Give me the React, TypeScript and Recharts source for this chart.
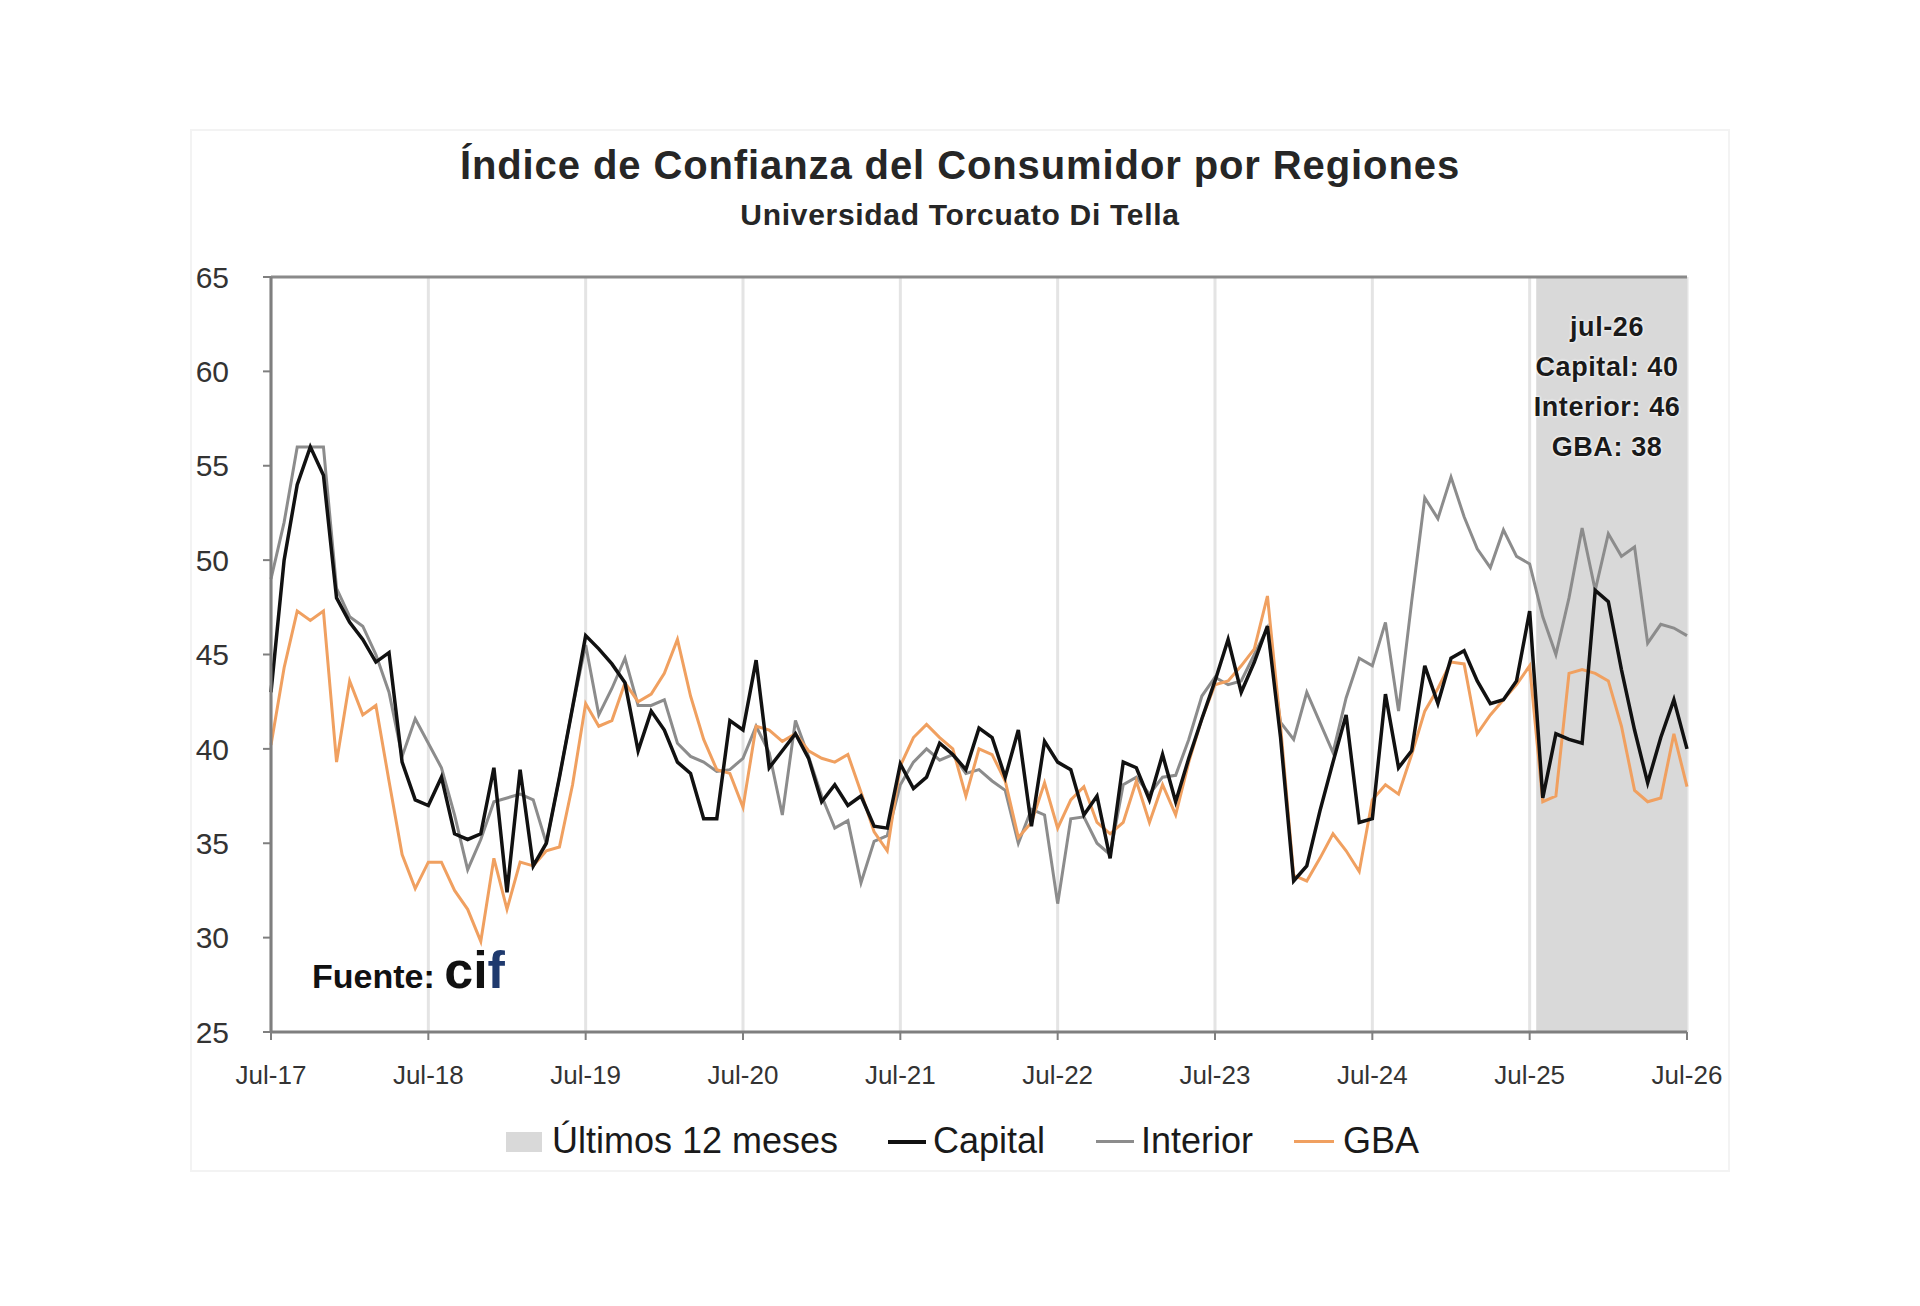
import React from 'react';
import {
  ComposedChart,
  Line,
  XAxis,
  YAxis,
  CartesianGrid,
  ReferenceArea,
  ReferenceLine,
} from 'recharts';

// Monthly series, Jul-17 through Jul-26
const monthNames = ['jul', 'ago', 'sep', 'oct', 'nov', 'dic', 'ene', 'feb', 'mar', 'abr', 'may', 'jun'];

const months: string[] = [];
for (let k = 0; k < 109; k++) {
  const m = k % 12;
  const yy = 17 + Math.floor((k + 6) / 12);
  months.push(`${monthNames[m]}-${yy}`);
}

const capital = [
  43, 50, 54, 56, 54.5, 48, 46.7, 45.8, 44.6, 45.1,
  39.3, 37.3, 37, 38.5, 35.5, 35.2, 35.5, 39, 32.4, 38.9,
  33.8, 35, 38.5, 42.2, 46, 45.3, 44.5, 43.5, 39.9, 42,
  41, 39.3, 38.7, 36.3, 36.3, 41.5, 41, 44.7, 39, 39.9,
  40.8, 39.5, 37.2, 38.1, 37, 37.5, 35.9, 35.8, 39.2, 37.9,
  38.5, 40.3, 39.7, 38.9, 41.1, 40.6, 38.5, 41, 35.9, 40.4,
  39.3, 38.9, 36.5, 37.5, 34.2, 39.3, 39, 37.3, 39.7, 37.2,
  39.5, 41.6, 43.6, 45.8, 43, 44.6, 46.5, 40.6, 33, 33.8,
  36.7, 39.3, 41.8, 36.1, 36.3, 42.9, 39, 39.9, 44.4, 42.4,
  44.8, 45.2, 43.6, 42.4, 42.6, 43.6, 47.3, 37.4, 40.8, 40.5,
  40.3, 48.4, 47.8, 44.2, 41, 38.2, 40.6, 42.6, 40,
];

const interior = [
  49, 52, 56, 56, 56, 48.5, 47, 46.5, 45, 43,
  39.6, 41.6, 40.3, 39, 36.5, 33.6, 35.2, 37.2, 37.4, 37.6,
  37.3, 35, 38.5, 42.2, 45.5, 41.8, 43.2, 44.8, 42.3, 42.3,
  42.6, 40.3, 39.6, 39.3, 38.8, 38.9, 39.5, 41.2, 39.8, 36.5,
  41.5, 39.6, 37.5, 35.8, 36.2, 32.9, 35.1, 35.4, 38.1, 39.3,
  40, 39.4, 39.7, 38.7, 38.9, 38.3, 37.8, 35, 36.8, 36.5,
  31.8, 36.3, 36.4, 35, 34.4, 38.1, 38.5, 37.6, 38.5, 38.6,
  40.5, 42.8, 43.8, 43.4, 43.6, 45, 46.4, 41.4, 40.5, 43,
  41.4, 39.8, 42.7, 44.8, 44.4, 46.7, 42, 47.8, 53.3, 52.2,
  54.4, 52.3, 50.6, 49.6, 51.6, 50.2, 49.8, 47, 45, 48,
  51.7, 48.4, 51.4, 50.2, 50.7, 45.6, 46.6, 46.4, 46,
];

const gba = [
  40.2, 44.3, 47.3, 46.8, 47.3, 39.3, 43.6, 41.8, 42.3, 38.3,
  34.4, 32.6, 34, 34, 32.5, 31.5, 29.8, 34.2, 31.5, 34,
  33.8, 34.6, 34.8, 38.1, 42.4, 41.2, 41.5, 43.5, 42.5, 42.9,
  44, 45.8, 42.8, 40.5, 38.9, 38.7, 36.9, 41.2, 41, 40.4,
  40.8, 39.9, 39.5, 39.3, 39.7, 37.7, 35.6, 34.6, 39.1, 40.6,
  41.3, 40.6, 40, 37.5, 40, 39.7, 38.3, 35.3, 36.1, 38.2,
  35.8, 37.3, 38, 36.1, 35.5, 36.1, 38.3, 36.1, 38.1, 36.5,
  39.3, 41.6, 43.4, 43.6, 44.4, 45.3, 48.1, 41.2, 33.3, 33,
  34.2, 35.5, 34.6, 33.5, 37.3, 38.1, 37.6, 39.7, 42, 43.2,
  44.6, 44.5, 40.8, 41.8, 42.6, 43.4, 44.4, 37.2, 37.5, 44,
  44.2, 44, 43.6, 41.2, 37.8, 37.2, 37.4, 40.8, 38,
];

const yTicks = [25, 30, 35, 40, 45, 50, 55, 60, 65];

const data = months.map((m, i) => ({
  idx: i,
  month: m,
  capital: capital[i],
  interior: interior[i],
  gba: gba[i],
}));

const last = months.length - 1;
const xTicks = months.map((m, i) => (m.startsWith('jul') ? i : -1)).filter((i) => i >= 0);
const shadeStart = last - 12 + 0.5;

const fmtTick = (i: number) => {
  const m = months[i] || '';
  return m.charAt(0).toUpperCase() + m.slice(1);
};

const FONT = '"Liberation Sans", Arial, sans-serif';
const AXIS_GRAY = '#7f7f7f';
const C_CAPITAL = '#111111';
const C_INTERIOR = '#8c8c8c';
const C_GBA = '#f0a060';

export default function App() {
  return (
    <div
      style={{
        position: 'absolute',
        left: 0,
        top: 0,
        width: 1920,
        height: 1306,
        background: '#ffffff',
        fontFamily: FONT,
        overflow: 'hidden',
      }}
    >
      {/* faint frame */}
      <div
        style={{
          position: 'absolute',
          left: 190,
          top: 129,
          width: 1540,
          height: 1043,
          border: '2px solid #f3f3f3',
          boxSizing: 'border-box',
        }}
      />

      <div
        style={{
          position: 'absolute',
          left: 0,
          width: 1920,
          top: 143,
          textAlign: 'center',
          fontSize: 40,
          fontWeight: 700,
          color: '#262626',
          letterSpacing: 0.9,
        }}
      >
        Índice de Confianza del Consumidor por Regiones
      </div>
      <div
        style={{
          position: 'absolute',
          left: 0,
          width: 1920,
          top: 198,
          textAlign: 'center',
          fontSize: 30,
          fontWeight: 700,
          color: '#262626',
          letterSpacing: 0.7,
        }}
      >
        Universidad Torcuato Di Tella
      </div>

      <div style={{ position: 'absolute', left: 0, top: 0 }}>
        <ComposedChart
          width={1920}
          height={1306}
          data={data}
          margin={{ top: 277, right: 233, bottom: 234, left: 200 }}
        >
          <ReferenceArea
            x1={shadeStart}
            x2={last}
            y1={25}
            y2={65}
            fill="#d9d9d9"
            fillOpacity={1}
            stroke="none"
          />
          <CartesianGrid horizontal={false} vertical stroke="#e4e4e4" strokeWidth={3} />
          <XAxis
            dataKey="idx"
            type="number"
            domain={[0, last]}
            ticks={xTicks}
            tickFormatter={fmtTick}
            height={40}
            interval={0}
            axisLine={{ stroke: AXIS_GRAY, strokeWidth: 3 }}
            tickLine={{ stroke: AXIS_GRAY, strokeWidth: 2 }}
            tickSize={8}
            tickMargin={26}
            tick={{ fill: '#333333', fontSize: 26, fontFamily: FONT }}
          />
          <YAxis
            type="number"
            domain={[25, 65]}
            ticks={yTicks}
            width={71}
            interval={0}
            axisLine={{ stroke: AXIS_GRAY, strokeWidth: 3 }}
            tickLine={{ stroke: AXIS_GRAY, strokeWidth: 2 }}
            tickSize={8}
            tickMargin={34}
            tick={{ fill: '#333333', fontSize: 30, fontFamily: FONT }}
          />
          <ReferenceLine y={65} stroke="#8a8a8a" strokeWidth={3} />
          <Line
            type="linear"
            dataKey="interior"
            stroke={C_INTERIOR}
            strokeWidth={3}
            dot={false}
            isAnimationActive={false}
          />
          <Line
            type="linear"
            dataKey="gba"
            stroke={C_GBA}
            strokeWidth={3}
            dot={false}
            isAnimationActive={false}
          />
          <Line
            type="linear"
            dataKey="capital"
            stroke={C_CAPITAL}
            strokeWidth={3.5}
            dot={false}
            isAnimationActive={false}
          />
        </ComposedChart>
      </div>

      {/* latest values note */}
      <div
        style={{
          position: 'absolute',
          left: 1517,
          width: 180,
          top: 307,
          textAlign: 'center',
          fontSize: 27,
          fontWeight: 700,
          color: '#1a1a1a',
          lineHeight: '40px',
          letterSpacing: 0.6,
          textShadow: '0 0 3px #fff, 0 0 3px #fff',
        }}
      >
        <div>{months[last]}</div>
        <div>Capital: {Math.round(capital[last])}</div>
        <div>Interior: {Math.round(interior[last])}</div>
        <div>GBA: {Math.round(gba[last])}</div>
      </div>

      {/* source */}
      <div
        style={{
          position: 'absolute',
          left: 312,
          top: 940,
          fontWeight: 700,
          color: '#111',
          whiteSpace: 'nowrap',
        }}
      >
        <span style={{ fontSize: 34 }}>Fuente: </span>
        <span style={{ fontSize: 52 }}>ci</span>
        <span style={{ fontSize: 52, color: '#1f3a6e' }}>f</span>
      </div>

      {/* legend */}
      <div style={{ position: 'absolute', left: 0, top: 1120, width: 1920, height: 44, fontSize: 36, color: '#1a1a1a' }}>
        <div style={{ position: 'absolute', left: 506, top: 12, width: 36, height: 20, background: '#d9d9d9' }} />
        <div style={{ position: 'absolute', left: 552, top: 0 }}>Últimos 12 meses</div>
        <div style={{ position: 'absolute', left: 888, top: 20, width: 38, height: 4, background: C_CAPITAL }} />
        <div style={{ position: 'absolute', left: 933, top: 0 }}>Capital</div>
        <div style={{ position: 'absolute', left: 1096, top: 20, width: 38, height: 3, background: C_INTERIOR }} />
        <div style={{ position: 'absolute', left: 1141, top: 0 }}>Interior</div>
        <div style={{ position: 'absolute', left: 1294, top: 20, width: 40, height: 3, background: C_GBA }} />
        <div style={{ position: 'absolute', left: 1343, top: 0 }}>GBA</div>
      </div>
    </div>
  );
}
